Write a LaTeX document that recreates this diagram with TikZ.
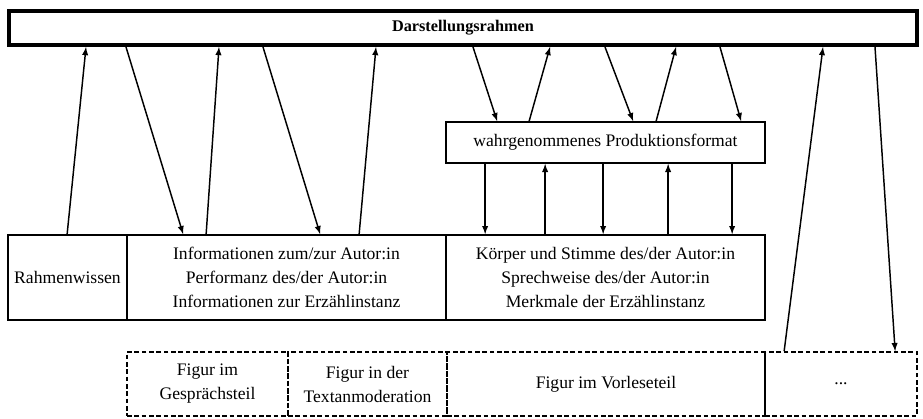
\documentclass[tikz,border=0pt]{standalone}
\usepackage{fontspec}
\setmainfont{Liberation Serif}
\usepackage{tikz}
\usetikzlibrary{arrows, calc, positioning}

\begin{document}
\begin{tikzpicture}[x=0.75pt, y=-0.75pt,
    font=\fontsize{13.2}{18}\selectfont,
    box/.style={rectangle, draw, line width=1.3pt, inner sep=0pt, align=center, minimum height=63.75pt},
    figbox/.style={box, dashed, dash pattern=on 3.5pt off 2pt, minimum height=48pt},
    arr/.style={-latex, line width=1.1pt}]
        \useasboundingbox (0,0) rectangle (923,418);
        % Rahmen oben
        \node[rectangle, draw, line width=3pt, minimum width=681pt, minimum height=25.5pt, font=\fontsize{12.2}{14}\selectfont\bfseries] (top) at (463,28) {Darstellungsrahmen};
        % mittlere Reihe
        \node[box, minimum width=89.25pt] (rw) at (67.5,277.5) {Rahmenwissen};
        \node[box, minimum width=239.25pt] (info) at (286.5,277.5) {Informationen zum/zur Autor:in\\Performanz des/der Autor:in\\Informationen zur Erzählinstanz};
        \node[box, minimum width=239.25pt] (koerper) at (605.5,277.5) {Körper und Stimme des/der Autor:in\\Sprechweise des/der Autor:in\\Merkmale der Erzählinstanz};
        \node[box, minimum width=239.25pt, minimum height=30.75pt] (prod) at (605.5,142.5) {wahrgenommenes Produktionsformat};
        % Figuren
        \node[figbox, minimum width=120.75pt] (gs) at (207.5,384) {Figur im\\Gesprächsteil};
        \node[figbox, minimum width=119.25pt] (tm) at (367.5,384) {Figur in der\\Textanmoderation};
        \node[figbox, minimum width=238.5pt] (vl) at (606,384) {Figur im Vorleseteil};
        \node[figbox, minimum width=114pt] (etc) at (841,384) {...};

        \draw[arr] ($(rw.north west)+(60,0)$) -- ($(top.south west)+(79,0)$);
        \draw[arr] ($(top.south west)+(119,0)$) -- ($(info.north west)+(57,0)$);
        \draw[arr] ($(info.north west)+(80,0)$) -- ($(top.south west)+(212,0)$);
        \draw[arr] ($(top.south west)+(256,0)$) -- ($(info.north west)+(194,0)$);
        \draw[arr] ($(info.north west)+(233,0)$) -- ($(top.south west)+(369,0)$);
        \draw[arr] ($(top.south west)+(466,0)$) -- ($(prod.north west)+(52,0)$);
        \draw[arr] ($(prod.north west)+(84,0)$) -- ($(top.south west)+(543,0)$);
        \draw[arr] ($(top.south west)+(598,0)$) -- ($(prod.north west)+(188,0)$);
        \draw[arr] ($(prod.north west)+(211,0)$) -- ($(top.south west)+(669,0)$);
        \draw[arr] ($(top.south west)+(713,0)$) -- ($(prod.north west)+(296,0)$);
        \draw[arr] ($(etc.north west)+(20,0)$) -- ($(top.south west)+(816,0)$);
        \draw[arr] ($(top.south west)+(868,0)$) -- ($(etc.north west)+(131,0)$);

        \foreach \dx in {40,158,287}
            \draw[arr] ($(prod.south west)+(\dx,0)$) -- ($(koerper.north west)+(\dx,0)$);
        \foreach \dx in {100,223}
            \draw[arr] ($(koerper.north west)+(\dx,0)$) -- ($(prod.south west)+(\dx,0)$);
\end{tikzpicture}
\end{document}
